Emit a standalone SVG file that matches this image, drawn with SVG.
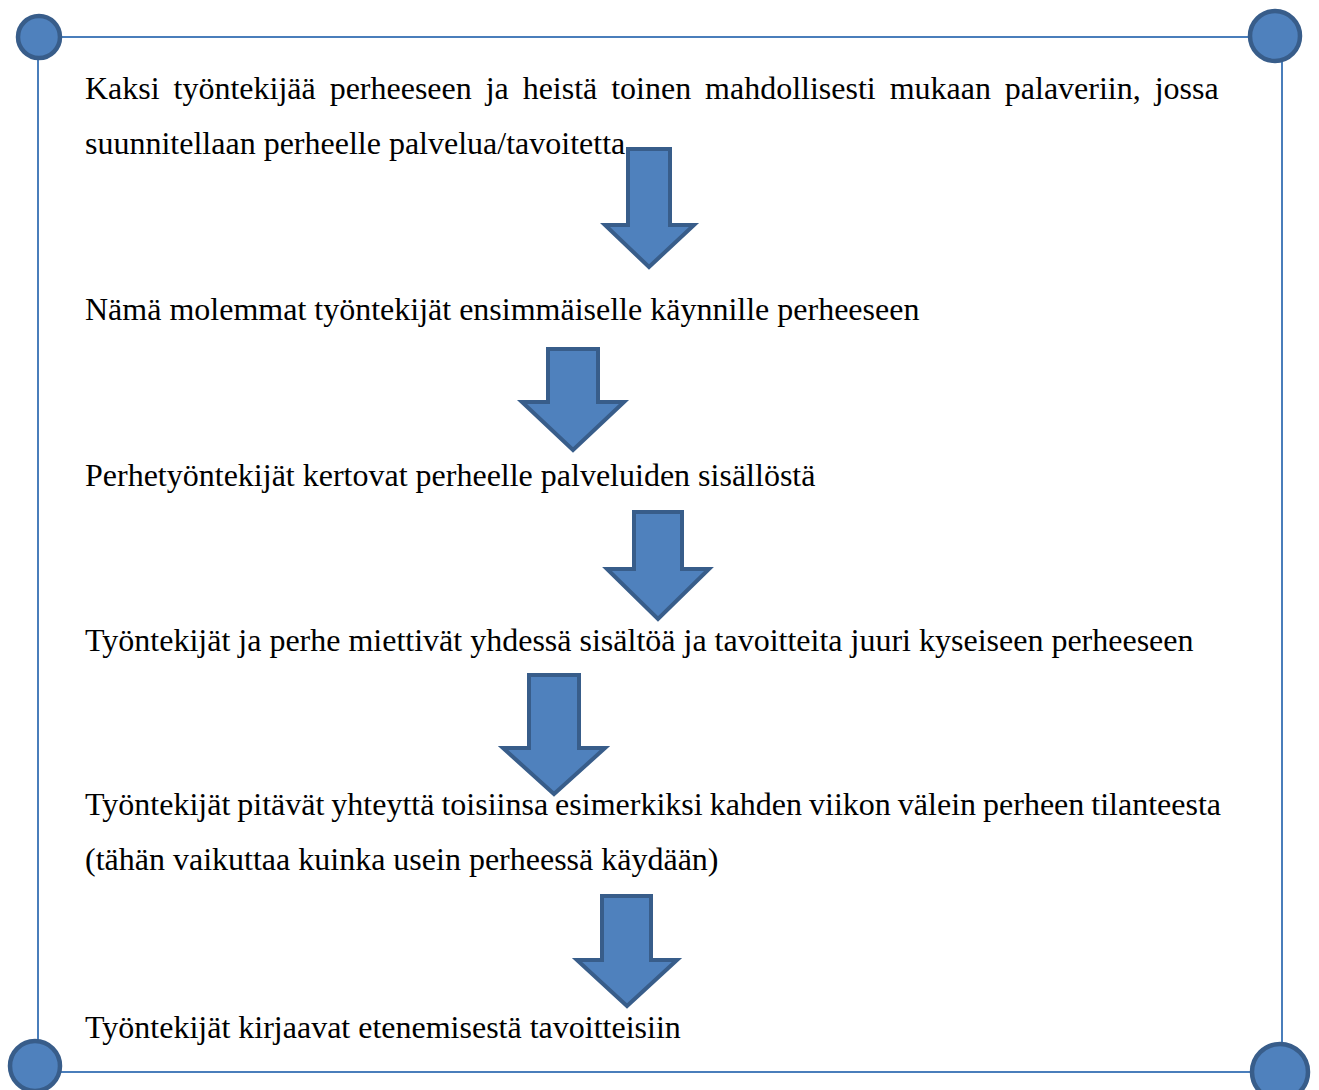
<svg xmlns="http://www.w3.org/2000/svg" width="1319" height="1090" viewBox="0 0 1319 1090">
<style>
.t{font-family:"Liberation Serif","Times New Roman",serif;font-size:32px;fill:#000}
.dot{fill:#4f81bd;stroke:#385d8a;stroke-width:4.5}
.frame{stroke:#4a7ebb;stroke-width:2;fill:none}
.arr{fill:#4f81bd;stroke:#385d8a;stroke-width:4}
</style>
<rect width="1319" height="1090" fill="#fff"/>
<g id="frame">
<line class="frame" x1="38" y1="37" x2="1276" y2="37"/>
<line class="frame" x1="38" y1="37" x2="38" y2="1068"/>
<line class="frame" x1="1282" y1="37" x2="1282" y2="1072"/>
<line class="frame" x1="35" y1="1072" x2="1282" y2="1072"/>
<circle class="dot" cx="39" cy="37" r="21"/>
<circle class="dot" cx="1275" cy="36" r="25"/>
<circle class="dot" cx="35" cy="1066" r="25"/>
<circle class="dot" cx="1280" cy="1072" r="28"/>
</g>
<g id="node1">
<text class="t" x="85" y="99" word-spacing="5.9">Kaksi työntekijää perheeseen ja heistä toinen mahdollisesti mukaan palaveriin, jossa</text>
<text class="t" x="85" y="154">suunnitellaan perheelle palvelua/tavoitetta</text>
</g>
<g id="node2"><text class="t" x="85" y="320">Nämä molemmat työntekijät ensimmäiselle käynnille perheeseen</text></g>
<g id="node3"><text class="t" x="85" y="486">Perhetyöntekijät kertovat perheelle palveluiden sisällöstä</text></g>
<g id="node4"><text class="t" x="85" y="651">Työntekijät ja perhe miettivät yhdessä sisältöä ja tavoitteita juuri kyseiseen perheeseen</text></g>
<g id="node5">
<text class="t" x="85" y="815" word-spacing="-1">Työntekijät pitävät yhteyttä toisiinsa esimerkiksi kahden viikon välein perheen tilanteesta</text>
<text class="t" x="85" y="870">(tähän vaikuttaa kuinka usein perheessä käydään)</text>
</g>
<g id="node6"><text class="t" x="85" y="1038">Työntekijät kirjaavat etenemisestä tavoitteisiin</text></g>
<g id="connectors">
<path class="arr" d="M628,149 H670 V225 H694 L649,267 L605,225 H628 Z"/>
<path class="arr" d="M548,349 H598 V402 H624 L573,450 L522,402 H548 Z"/>
<path class="arr" d="M634,512 H682 V569 H709 L658,619 L607,569 H634 Z"/>
<path class="arr" d="M529,675 H579 V748 H605 L554,794 L503,748 H529 Z"/>
<path class="arr" d="M602,896 H651 V960 H677 L627,1006 L577,960 H602 Z"/>
</g>
</svg>
